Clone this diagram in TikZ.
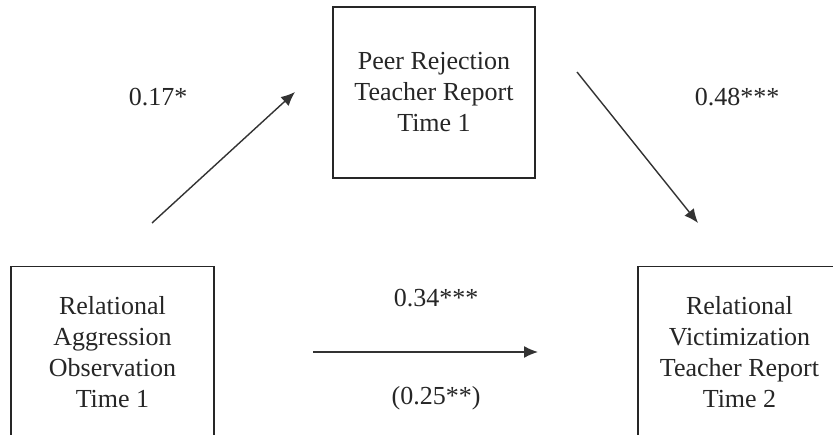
\documentclass[tikz,border=0pt]{standalone}
\usepackage{fontspec}
\setmainfont{Liberation Serif}
\usetikzlibrary{arrows.meta}
\begin{document}
\begin{tikzpicture}[x=1pt,y=-1pt,
  varbox/.style={draw=black!85, line width=1.8pt, rectangle, minimum width=203pt, minimum height=171pt, align=center, inner sep=0pt, text=black!85,
    font=\fontsize{26}{31}\selectfont},
  coef/.style={inner sep=0pt, text=black!85, font=\fontsize{26}{31}\selectfont},
  path/.style={draw=black!80, line width=1.4pt, -{Latex[length=14pt,width=12pt]}}]
\useasboundingbox (0,0) rectangle (833,435);
\clip (0,0) rectangle (833,435);
\fill[white] (0,0) rectangle (833,435);
\node[varbox, minimum width=202pt] (peer) at (434,92.5) {Peer Rejection\\Teacher Report\\Time 1};
\node[varbox] (agg) at (112.5,352) {Relational\\Aggression\\Observation\\Time 1};
\node[varbox] (vic) at (739.5,352) {Relational\\Victimization\\Teacher Report\\Time 2};
\coordinate (a1s) at (152,223);
\coordinate (a1e) at (295,92);
\coordinate (a2s) at (577,72);
\coordinate (a2e) at (698,223);
\coordinate (a3s) at (313,352);
\coordinate (a3e) at (538,352);
\draw[path] (a1s) -- (a1e);
\draw[path] (a2s) -- (a2e);
\draw[path] (a3s) -- (a3e);
\node[coef] (c1) at (158,97) {0.17*};
\node[coef] (c2) at (737,97) {0.48***};
\node[coef] (c3) at (436,298) {0.34***};
\node[coef] (c4) at (436,398) {(0.25**)};
\end{tikzpicture}
\end{document}
